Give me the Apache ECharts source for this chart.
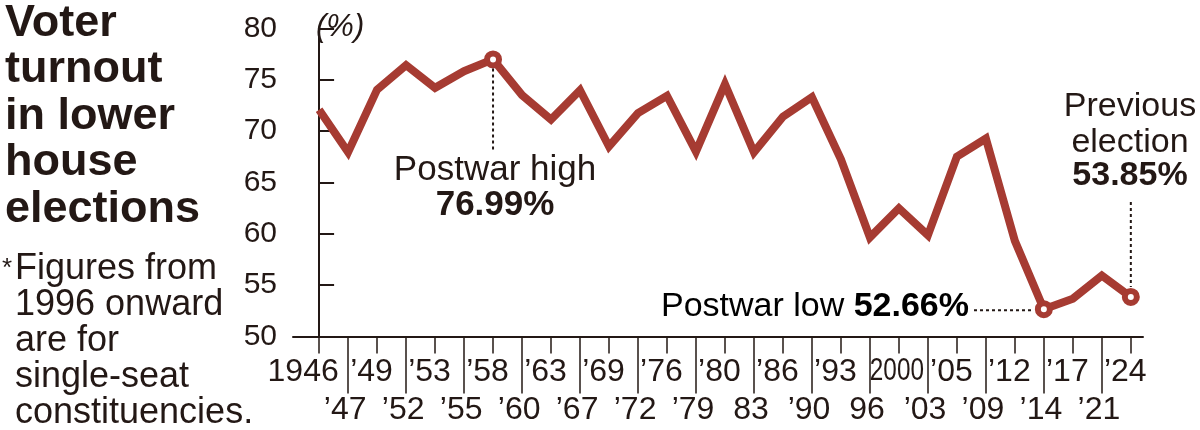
<!DOCTYPE html>
<html><head><meta charset="utf-8">
<script src="https://cdn.jsdelivr.net/npm/echarts@6/dist/echarts.min.js"></script>
<style>html,body{margin:0;padding:0;background:#fff}#c{width:1200px;height:430px}</style>
</head><body><div id="c"></div>
<script>
// ---- data ----
const yearLabels = ['1946','\u201947','\u201949','\u201952','\u201953','\u201955','\u201958','\u201960','\u201963','\u201967','\u201969','\u201972','\u201976','\u201979','\u201980','83','\u201986','\u201990','\u201993','96','2000','\u201903','\u201905','\u201909','\u201912','\u201914','\u201917','\u201921','\u201924'];
const turnout = [72.08,67.95,74.04,76.43,74.22,75.84,76.99,73.51,71.14,73.99,68.51,71.76,73.45,68.01,74.57,67.94,71.40,73.31,67.26,59.65,62.49,59.86,67.51,69.28,59.32,52.66,53.68,55.93,53.85];
const yMin = 50, yMax = 80, yStep = 5;
const highIdx = 6, lowIdx = 25, prevIdx = 28;
const narrowIdx = 20; // '2000' label is set condensed
const titleText = 'Voter\nturnout\nin lower\nhouse\nelections';
const noteText = 'Figures from\n1996 onward\nare for\nsingle-seat\nconstituencies.';
const unitText = '(%)';

// ---- style ----
const FONT = "'Liberation Sans', Arial, Helvetica, sans-serif";
const INK = '#231815';
const RED = '#a63b32';

const chart = echarts.init(document.getElementById('c'), null, {renderer: 'canvas'});
const topIdx = yearLabels.map((_, i) => i).filter(i => i % 2 === 0);
const botIdx = yearLabels.map((_, i) => i).filter(i => i % 2 === 1);
// label anchor positions (slight leftward shift as in the print layout)
const topLabelPos = topIdx.filter(i => i !== narrowIdx).map(i => i === 0 ? i - 0.55 : i - 0.19);
const botLabelPos = botIdx.map(i => i - 0.1);
const fmt = v => yearLabels[Math.round(v + 0.3)] || '';
const xLabelBase = {fontSize: 32, color: INK, fontFamily: FONT, lineHeight: 32};

const option = {
  animation: false,
  backgroundColor: '#fff',
  grid: {left: 293, right: 57, top: 28.5, bottom: 93.5},
  xAxis: [
    {type: 'value', min: -0.9, max: 28.42, position: 'bottom',
     splitLine: {show: false},
     axisLine: {show: true, lineStyle: {color: INK, width: 2}},
     axisTick: {show: true, customValues: topIdx, length: 17, lineStyle: {color: INK, width: 1.5}},
     axisLabel: Object.assign({customValues: topLabelPos, formatter: fmt, margin: 20}, xLabelBase)},
    {type: 'value', min: -0.9, max: 28.42, position: 'bottom', offset: 0,
     splitLine: {show: false},
     axisLine: {show: false},
     axisTick: {show: true, customValues: botIdx, length: 57, lineStyle: {color: INK, width: 1.5}},
     axisLabel: Object.assign({customValues: botLabelPos, formatter: fmt, margin: 58}, xLabelBase)}
  ],
  yAxis: {type: 'value', min: yMin, max: yMax, interval: yStep,
    splitLine: {show: false},
    axisLine: {show: true, lineStyle: {color: INK, width: 2}},
    axisTick: {show: true, inside: true, length: 15, lineStyle: {color: INK, width: 2}},
    axisLabel: {margin: 16, fontSize: 30, color: INK, fontFamily: FONT}},
  series: [
    {type: 'line', xAxisIndex: 0, yAxisIndex: 0, symbol: 'none', z: 2,
     lineStyle: {color: RED, width: 8, join: 'miter'},
     data: turnout.map((v, i) => [i, v])},
    {type: 'scatter', xAxisIndex: 0, yAxisIndex: 0, symbol: 'circle', symbolSize: 12, z: 5,
     itemStyle: {color: '#fff', borderColor: RED, borderWidth: 6, opacity: 1},
     data: [highIdx, lowIdx, prevIdx].map(i => [i, turnout[i]])}
  ]
};
chart.setOption(option);

const px = i => chart.convertToPixel({seriesIndex: 0}, [i, turnout[i]]);
const hp = px(highIdx), lp = px(lowIdx), pp = px(prevIdx);
const np = px(narrowIdx)[0];
const pct = v => v.toFixed(2) + '%';
const dash = (x1, y1, x2, y2) => ({type: 'line', z: 10, silent: true,
  shape: {x1, y1, x2, y2}, style: {stroke: INK, lineWidth: 2, lineDash: [3, 3]}});
const txt = (x, y, text, opts, extra) => Object.assign({type: 'text', x, y, z: 10, silent: true,
  style: Object.assign({text, fill: INK, fontFamily: FONT, fontSize: 34, align: 'center', verticalAlign: 'middle'}, opts || {})}, extra || {});

chart.setOption({
  graphic: [
    txt(5, 0, titleText, {fontSize: 45, fontWeight: 'bold', lineHeight: 46.5, align: 'left', verticalAlign: 'top'}),
    txt(2, 256, '*', {fontSize: 26, align: 'left', verticalAlign: 'top'}),
    txt(15, 251, noteText, {fontSize: 36, lineHeight: 36, align: 'left', verticalAlign: 'top'}),
    txt(316, 27, unitText, {fontSize: 31, fontStyle: 'italic', align: 'left'}),
    // condensed '2000' tick label
    txt(np - 2, 371, yearLabels[narrowIdx], {fontSize: 32}, {scaleX: 0.76, originX: 0, originY: 0}),
    // postwar high
    dash(hp[0], hp[1] + 9, hp[0], 152),
    txt(hp[0] + 2, 170, 'Postwar high', {fontSize: 35}),
    txt(hp[0] + 2, 205, pct(turnout[highIdx]), {fontWeight: 'bold', fontSize: 35}),
    // postwar low
    dash(974, lp[1] + 1, lp[0] - 10, lp[1] + 1),
    {type: 'text', x: 969, y: 307, z: 10, silent: true,
     style: {text: '{a|Postwar low }{b|' + pct(turnout[lowIdx]) + '}', align: 'right', verticalAlign: 'middle',
       rich: {a: {fontSize: 34, fontFamily: FONT, color: INK}, b: {fontSize: 34, fontFamily: FONT, fontWeight: 'bold', color: INK}}}},
    // previous election
    dash(pp[0], 202, pp[0], pp[1] - 10),
    txt(1130, 107, 'Previous'),
    txt(1130, 143, 'election'),
    txt(1130, 176, pct(turnout[prevIdx]), {fontWeight: 'bold'})
  ]
});
</script></body></html>
